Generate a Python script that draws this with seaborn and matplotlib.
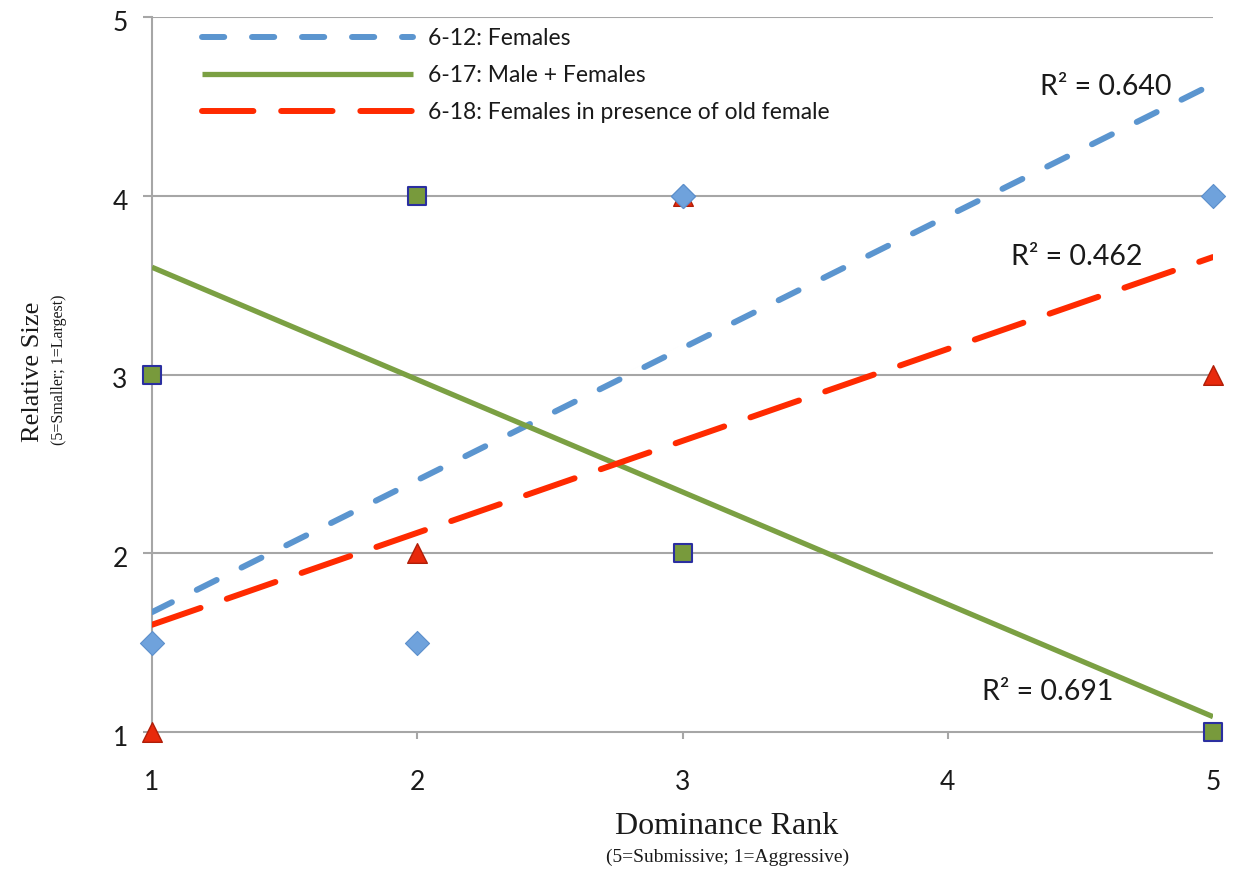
import numpy as np
import pandas as pd
import matplotlib
matplotlib.use("Agg")
import matplotlib.pyplot as plt
import matplotlib.transforms as mtransforms
import seaborn as sns

# Dominance rank vs relative size for three observation sessions
rank_612 = [1, 2, 3, 3, 5]
size_612 = [1.5, 1.5, 4, 4, 4]
rank_617 = [1, 2, 3, 5]
size_617 = [3, 4, 2, 1]
rank_618 = [1, 2, 3, 5]
size_618 = [1, 2, 4, 3]

series_labels = ["6-12: Females", "6-17: Male + Females",
                 "6-18: Females in presence of old female"]
r2_labels = ["R² = 0.640", "R² = 0.691", "R² = 0.462"]
x_ticks = [1, 2, 3, 4, 5]
y_ticks = [1, 2, 3, 4, 5]

sns.set_theme(style="white")
plt.rcParams["font.family"] = ["Lato", "DejaVu Sans"]
plt.rcParams["lines.scale_dashes"] = False

BLUE = "#5B95CF"
GREEN = "#7BA043"
RED = "#FF2A00"
GRID = "#A6A6A6"
INK = "#1a1a1a"

fig = plt.figure(figsize=(12.35, 8.69), dpi=100)
ax = fig.add_axes([152 / 1235, 1 - 732 / 869, (1213 - 152) / 1235, (732 - 17) / 869])

df612 = pd.DataFrame({"rank": rank_612, "size": size_612})
df617 = pd.DataFrame({"rank": rank_617, "size": size_617})
df618 = pd.DataFrame({"rank": rank_618, "size": size_618})

# linear trendlines (least squares over the observed rank range)
sns.regplot(data=df612, x="rank", y="size", ax=ax, scatter=False, ci=None, truncate=True,
            label=series_labels[0],
            line_kws=dict(color=BLUE, lw=4.3, dashes=(16, 20), dash_capstyle="round", zorder=3))
sns.regplot(data=df617, x="rank", y="size", ax=ax, scatter=False, ci=None, truncate=True,
            label=series_labels[1],
            line_kws=dict(color=GREEN, lw=3.8, solid_capstyle="butt", zorder=3))
sns.regplot(data=df618, x="rank", y="size", ax=ax, scatter=False, ci=None, truncate=True,
            label=series_labels[2],
            line_kws=dict(color=RED, lw=4.3, dashes=(37, 20), dash_capstyle="round", zorder=3))
trend_lines = list(ax.lines)

# observed points
sns.scatterplot(data=df617, x="rank", y="size", ax=ax, marker="s", s=160,
                color="#789A3C", edgecolor="#2B2FA0", linewidth=1.5, zorder=4, clip_on=False)
sns.scatterplot(data=df618, x="rank", y="size", ax=ax, marker="^", s=200,
                color="#E8290C", edgecolor="#B01E08", linewidth=1.0, zorder=5, clip_on=False)
sns.scatterplot(data=df612, x="rank", y="size", ax=ax, marker="D", s=150,
                color="#6FA2DC", edgecolor="#5C8FCB", linewidth=0.8, zorder=6, clip_on=False)

ax.set_xlim(1, 5)
ax.set_ylim(1, 5)
ax.set_xticks(x_ticks)
ax.set_yticks(y_ticks)
ax.set_xlabel("")
ax.set_ylabel("")

ax.grid(False)
for y in y_ticks[1:]:
    ax.axhline(y, color=GRID, lw=1.5, zorder=1)
for side in ["top", "right"]:
    ax.spines[side].set_visible(False)
for side in ["left", "bottom"]:
    ax.spines[side].set_color(GRID)
    ax.spines[side].set_linewidth(1.5)
    ax.spines[side].set_zorder(1)

ax.tick_params(axis="y", direction="out", length=6.5, width=1.5, color=GRID,
               left=True, pad=11, labelsize=19, labelcolor=INK)
ax.tick_params(axis="x", direction="out", length=5, width=1.5, color=GRID,
               bottom=True, pad=22, labelsize=19, labelcolor=INK)
# nudge the y tick labels slightly below their gridlines
shift = mtransforms.ScaledTranslation(0, -4 / 100, fig.dpi_scale_trans)
for lbl in ax.get_yticklabels():
    lbl.set_transform(lbl.get_transform() + shift)

# coefficient of determination labels
for txt, (px, py) in zip(r2_labels, [(1106, 87), (1048, 692), (1077, 257)]):
    fig.text(px / 1235, 1 - py / 869, txt, ha="center", va="center",
             fontsize=20.5, color=INK)

leg = ax.legend(handles=trend_lines, labels=series_labels,
                loc="upper left", bbox_to_anchor=(50 / 1061, 1 - 11 / 715), frameon=False,
                fontsize=16.5, handlelength=9.2, handletextpad=0.65, labelspacing=0.7,
                borderaxespad=0, borderpad=0)
for t in leg.get_texts():
    t.set_color(INK)

serif = ["Liberation Serif", "DejaVu Serif"]
fig.text(727 / 1235, 1 - 827 / 869, "Dominance Rank", ha="center", va="center",
         fontsize=23, family=serif, color=INK)
fig.text(728 / 1235, 1 - 857 / 869, "(5=Submissive; 1=Aggressive)", ha="center", va="center",
         fontsize=14, family=serif, color=INK)
fig.text(33 / 1235, 1 - 372 / 869, "Relative Size", ha="center", va="center", rotation=90,
         fontsize=19, family=serif, color=INK)
fig.text(59 / 1235, 1 - 370 / 869, "(5=Smaller; 1=Largest)", ha="center", va="center",
         rotation=90, fontsize=11.5, family=serif, color=INK)

fig.savefig("out.png", dpi=100, facecolor="white")
